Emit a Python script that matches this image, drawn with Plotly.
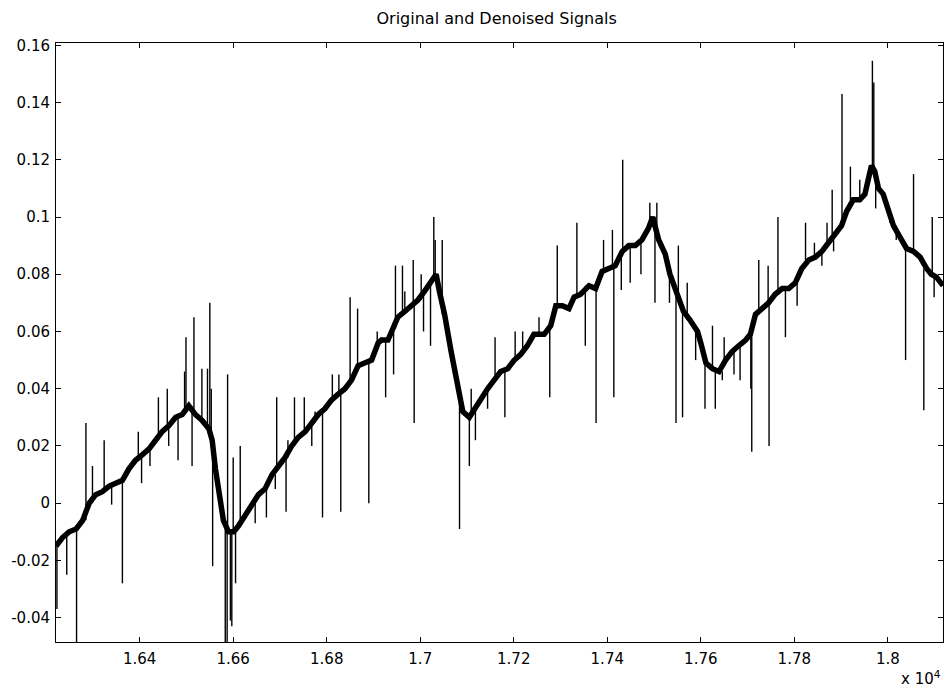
import plotly.graph_objects as go

# Denoised (smooth) signal
base_x = [16221, 16235, 16249, 16264, 16278, 16292, 16306, 16320, 16335, 16349,
          16363, 16377, 16391, 16406, 16420, 16434, 16448, 16462, 16477, 16491,
          16505, 16519, 16533, 16548, 16555, 16562, 16572, 16579, 16590, 16601,
          16611, 16626, 16640, 16654, 16668, 16683, 16697, 16711, 16725, 16739,
          16754, 16768, 16782, 16796, 16810, 16824, 16839, 16853, 16867, 16881,
          16896, 16910, 16917, 16931, 16942, 16952, 16967, 16981, 16995, 17009,
          17023, 17034, 17041, 17052, 17066, 17080, 17091, 17105, 17116, 17130,
          17144, 17158, 17172, 17187, 17201, 17215, 17229, 17243, 17265, 17279,
          17290, 17304, 17318, 17329, 17343, 17361, 17375, 17389, 17403, 17417,
          17432, 17446, 17460, 17474, 17488, 17497, 17510, 17524, 17534, 17549,
          17563, 17577, 17593, 17600, 17611, 17625, 17639, 17653, 17667, 17681,
          17696, 17706, 17717, 17731, 17745, 17759, 17774, 17788, 17802, 17816,
          17831, 17845, 17859, 17873, 17887, 17901, 17912, 17926, 17940, 17951,
          17958, 17965, 17972, 17980, 17990, 18001, 18012, 18026, 18040, 18055,
          18069, 18083, 18093, 18104, 18118]
base_y = [-0.015, -0.012, -0.010, -0.009, -0.006, 0.000, 0.003, 0.004, 0.006, 0.007,
          0.008, 0.012, 0.015, 0.017, 0.019, 0.022, 0.025, 0.027, 0.030, 0.031,
          0.034, 0.031, 0.029, 0.026, 0.022, 0.012, 0.002, -0.006, -0.010, -0.010,
          -0.008, -0.004, 0.000, 0.003, 0.005, 0.010, 0.013, 0.016, 0.020, 0.023,
          0.025, 0.028, 0.031, 0.033, 0.036, 0.038, 0.040, 0.043, 0.048, 0.049,
          0.050, 0.056, 0.057, 0.057, 0.061, 0.065, 0.067, 0.069, 0.071, 0.074,
          0.077, 0.080, 0.074, 0.066, 0.053, 0.040, 0.032, 0.030, 0.033, 0.037,
          0.040, 0.043, 0.046, 0.047, 0.050, 0.052, 0.055, 0.059, 0.059, 0.062,
          0.069, 0.069, 0.068, 0.072, 0.073, 0.076, 0.075, 0.081, 0.082, 0.083,
          0.088, 0.090, 0.090, 0.092, 0.096, 0.100, 0.092, 0.087, 0.080, 0.073,
          0.067, 0.064, 0.060, 0.056, 0.049, 0.047, 0.046, 0.050, 0.053, 0.055,
          0.057, 0.059, 0.066, 0.068, 0.070, 0.073, 0.075, 0.075, 0.077, 0.082,
          0.085, 0.086, 0.088, 0.091, 0.094, 0.097, 0.102, 0.106, 0.106, 0.108,
          0.113, 0.118, 0.116, 0.110, 0.108, 0.103, 0.097, 0.093, 0.089, 0.088,
          0.086, 0.082, 0.080, 0.079, 0.076]

# Spikes of the original (noisy) signal: position and tip value
spike_x = [16223, 16244, 16265, 16285, 16299, 16324, 16340, 16363, 16397, 16404,
           16422, 16440, 16459, 16462, 16482, 16496, 16499, 16512, 16516, 16533,
           16545, 16550, 16553, 16556, 16583, 16587, 16588, 16594, 16597, 16600,
           16605, 16615, 16647, 16671, 16690, 16693, 16713, 16717, 16731, 16752,
           16768, 16775, 16791, 16812, 16826, 16830, 16850, 16866, 16890, 16908,
           16926, 16943, 16947, 16962, 16967, 16985, 16987, 17002, 17007, 17022,
           17029, 17032, 17047, 17084, 17105, 17109, 17118, 17144, 17160, 17181,
           17203, 17219, 17254, 17277, 17293, 17335, 17353, 17376, 17392, 17411,
           17414, 17430, 17433, 17449, 17472, 17491, 17502, 17506, 17533, 17547,
           17552, 17561, 17571, 17589, 17609, 17625, 17631, 17646, 17650, 17671,
           17684, 17707, 17709, 17724, 17744, 17746, 17765, 17781, 17806, 17824,
           17843, 17859, 17870, 17881, 17884, 17902, 17920, 17940, 17967, 17970,
           17974, 18004, 18018, 18038, 18055, 18077, 18095, 18099]
spike_y = [-0.037, -0.025, -0.0485, 0.028, 0.013, 0.022, -0.0005, -0.028, 0.025, 0.007,
           0.013, 0.037, 0.040, 0.020, 0.015, 0.046, 0.058, 0.013, 0.065, 0.047,
           0.047, 0.070, 0.040, -0.022, -0.0485, -0.0485, 0.045, -0.041, -0.043, 0.016,
           -0.028, 0.020, -0.007, -0.005, 0.005, 0.037, -0.003, 0.022, 0.037, 0.037,
           0.020, 0.032, -0.005, 0.045, 0.045, -0.003, 0.072, 0.068, 0.000, 0.060,
           0.037, 0.045, 0.083, 0.083, 0.074, 0.085, 0.028, 0.080, 0.060, 0.055,
           0.100, 0.092, 0.092, -0.009, 0.013, 0.040, 0.022, 0.033, 0.058, 0.030,
           0.060, 0.060, 0.065, 0.037, 0.090, 0.098, 0.055, 0.028, 0.092, 0.0955,
           0.037, 0.0745, 0.120, 0.077, 0.080, 0.105, 0.070, 0.105, 0.070, 0.028,
           0.090, 0.030, 0.077, 0.050, 0.033, 0.062, 0.033, 0.043, 0.058, 0.045,
           0.043, 0.040, 0.018, 0.085, 0.083, 0.020, 0.100, 0.058, 0.069, 0.098,
           0.091, 0.083, 0.098, 0.1095, 0.088, 0.143, 0.1176, 0.113, 0.1546, 0.147,
           0.103, 0.098, 0.092, 0.050, 0.115, 0.0325, 0.100, 0.072]

x_tickvals = [16400, 16600, 16800, 17000, 17200, 17400, 17600, 17800, 18000]
x_ticktext = ["1.64", "1.66", "1.68", "1.7", "1.72", "1.74", "1.76", "1.78", "1.8"]
y_tickvals = [-0.04, -0.02, 0, 0.02, 0.04, 0.06, 0.08, 0.1, 0.12, 0.14, 0.16]
y_ticktext = ["-0.04", "-0.02", "0", "0.02", "0.04", "0.06", "0.08", "0.1", "0.12", "0.14", "0.16"]

# build spike segments anchored on the nearest denoised sample
seg_x, seg_y = [], []
for sx, sy in zip(spike_x, spike_y):
    k = min(range(len(base_x)), key=lambda i: abs(base_x[i] - sx))
    seg_x += [sx, sx, None]
    seg_y += [base_y[k], sy, None]

fig = go.Figure()
fig.add_trace(go.Scatter(x=seg_x, y=seg_y, mode="lines",
                         line=dict(color="black", width=1.4), name="Original",
                         connectgaps=False))
fig.add_trace(go.Scatter(x=base_x, y=base_y, mode="lines",
                         line=dict(color="black", width=5.5), name="Denoised"))

FAM = "DejaVu Sans, Verdana, sans-serif"
font = dict(family=FAM, size=15, color="black")
axis_common = dict(showline=True, linecolor="black", linewidth=1, mirror="allticks",
                   ticks="inside", ticklen=5, tickcolor="black", tickwidth=1,
                   showgrid=False, zeroline=False, tickfont=font)

fig.update_layout(
    width=946, height=692,
    margin=dict(l=56, r=3, t=43, b=50),
    paper_bgcolor="white", plot_bgcolor="white",
    showlegend=False,
    title=dict(text="Original and Denoised Signals", x=0.525, xanchor="center",
               y=1 - 18 / 692, yanchor="middle", yref="container",
               font=dict(family=FAM, size=16, color="black")),
    xaxis=dict(range=[16221, 18118], tickvals=x_tickvals, ticktext=x_ticktext,
               ticklabelstandoff=3, **axis_common),
    yaxis=dict(range=[-0.0485, 0.1608], tickvals=y_tickvals, ticktext=y_ticktext,
               ticklabelstandoff=2, **axis_common),
)
fig.add_annotation(text="x 10<sup>4</sup>", xref="paper", yref="paper",
                   x=1.0, y=-(690 - 642) / 599, xanchor="right", yanchor="bottom",
                   showarrow=False, font=font)

fig.write_html("out.html")
